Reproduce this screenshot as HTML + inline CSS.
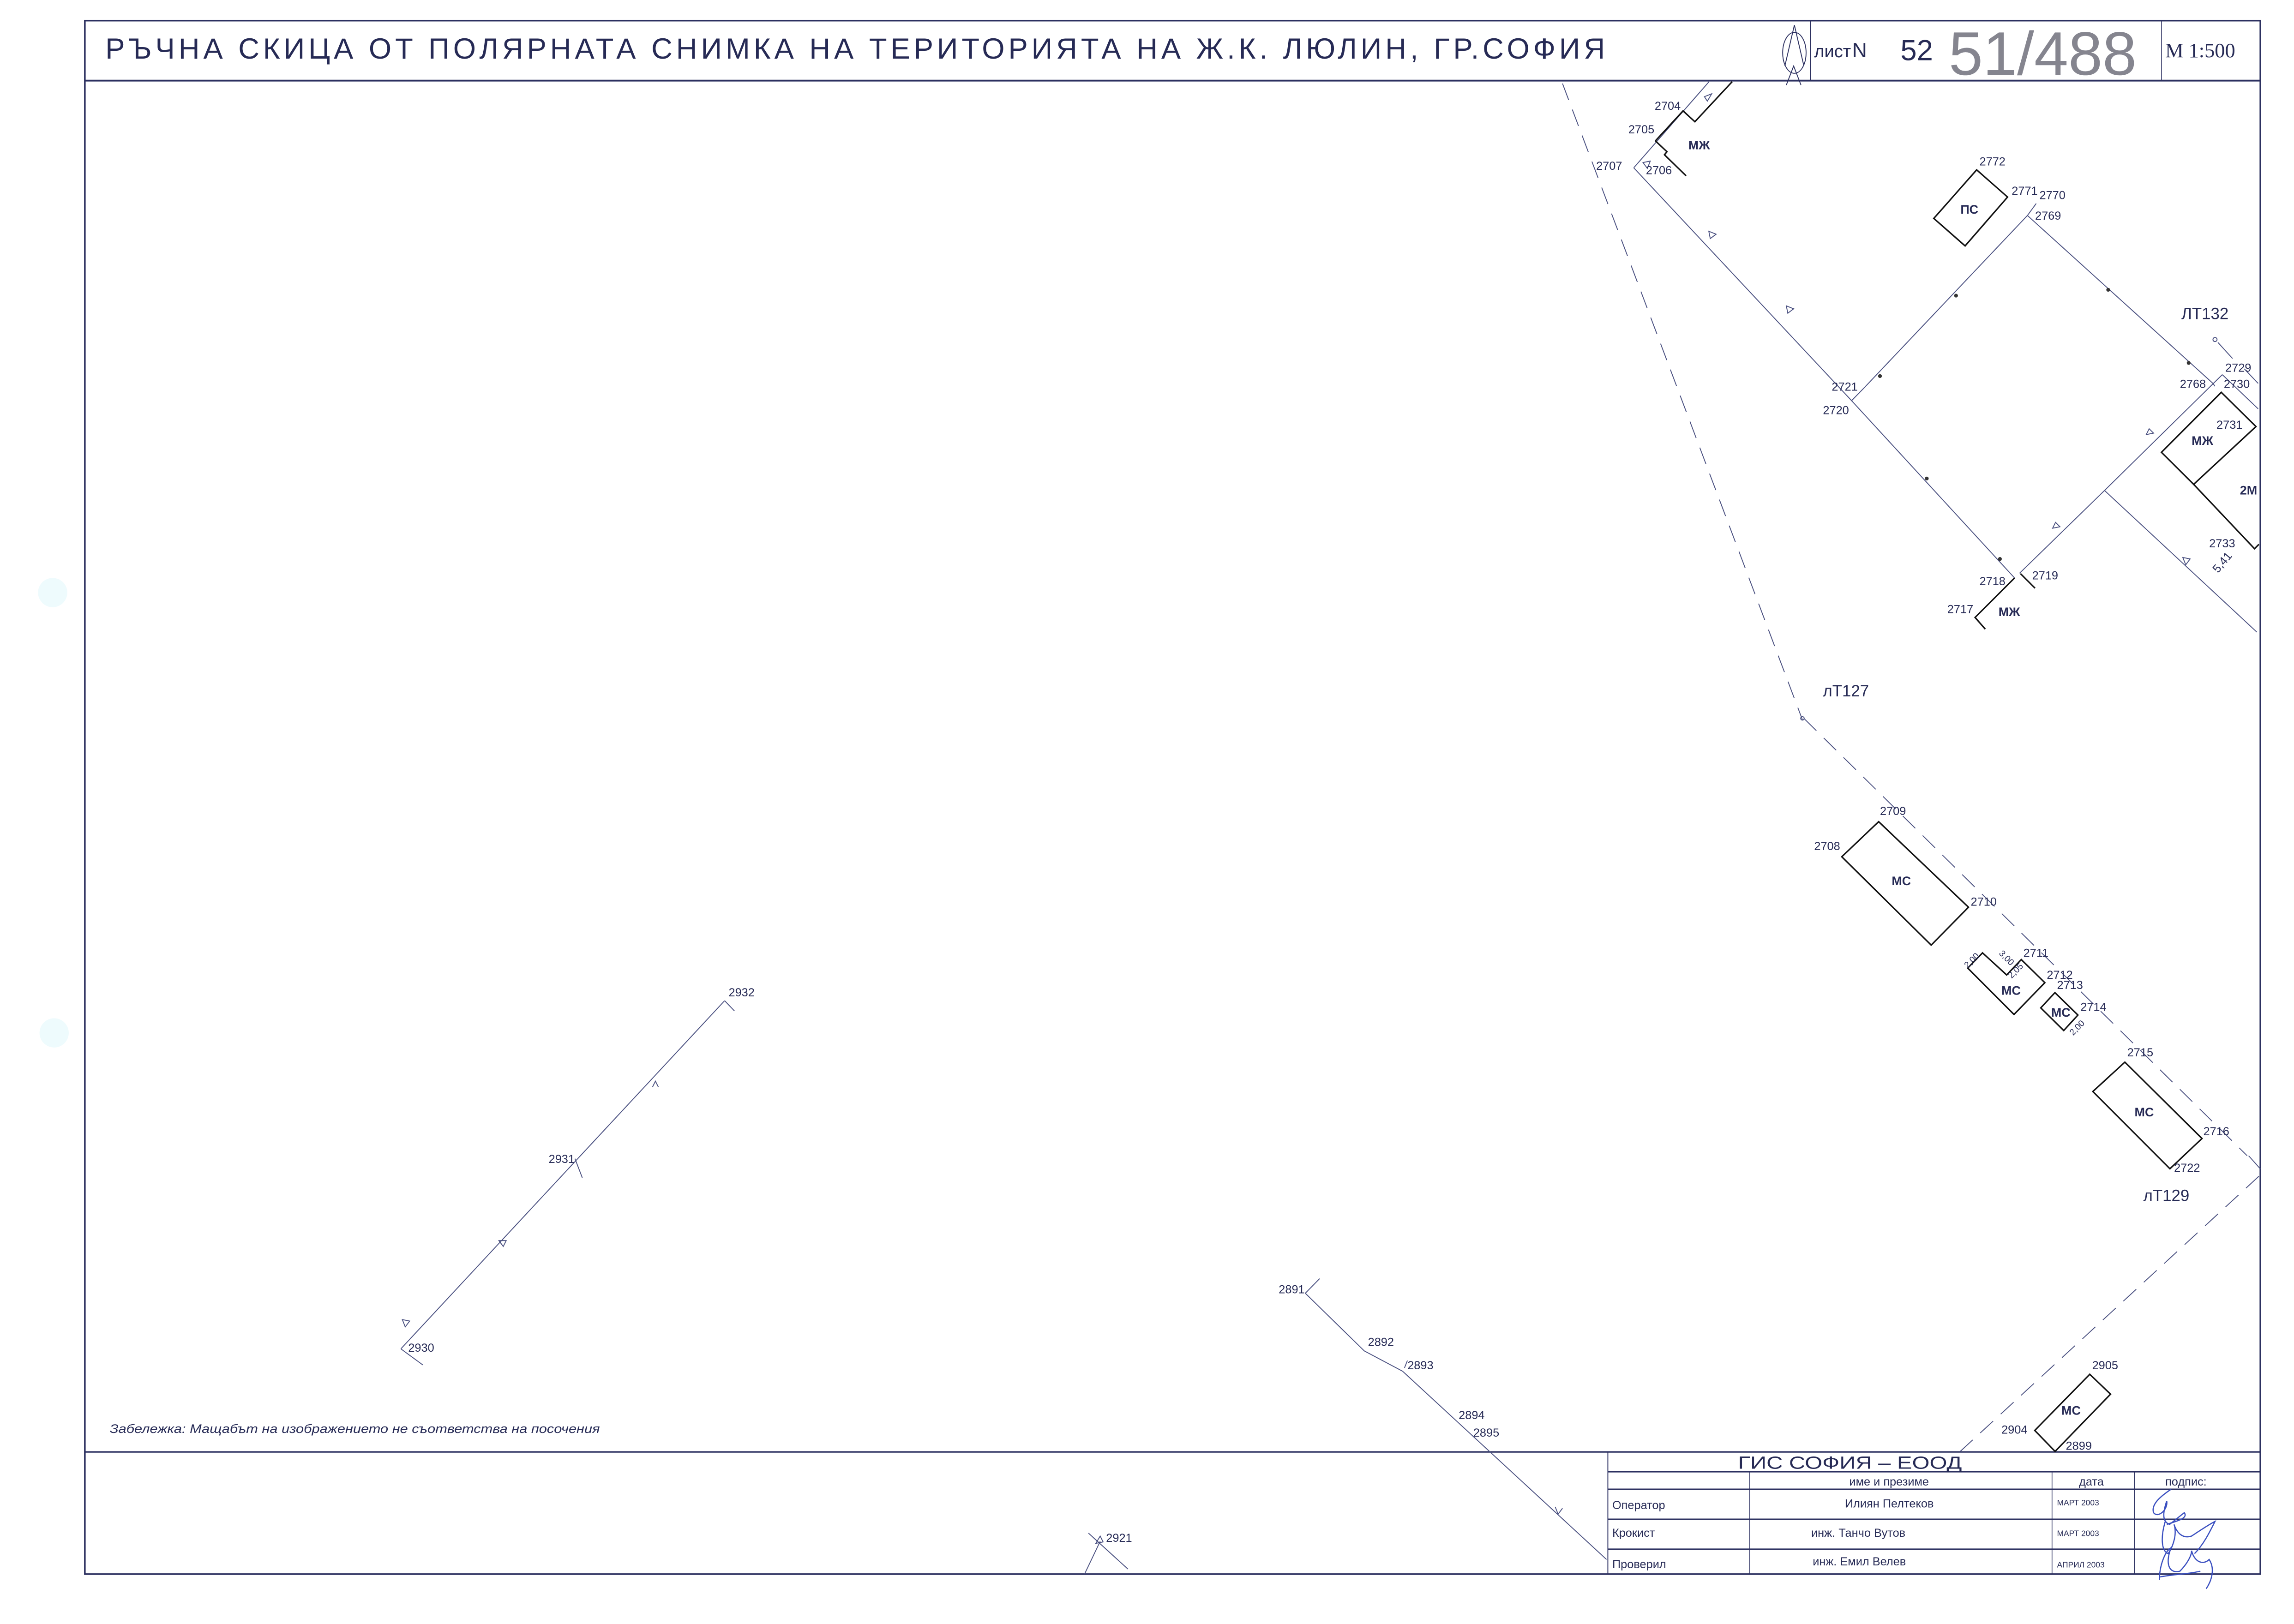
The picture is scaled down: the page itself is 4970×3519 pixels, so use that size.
<!DOCTYPE html>
<html><head><meta charset="utf-8"><style>
html,body{margin:0;padding:0;background:#fff;}
svg{display:block;}
text{font-family:"Liberation Sans","DejaVu Sans",sans-serif;fill:#262a55;}
</style></head><body>
<svg width="4970" height="3519" viewBox="0 0 1568 1110" xmlns="http://www.w3.org/2000/svg">
<rect x="0" y="0" width="1568" height="1110" fill="#fff"/>
<circle cx="36" cy="405" r="10" fill="#eefbfd"/>
<circle cx="37" cy="706" r="10" fill="#eefbfd"/>
<g fill="none" stroke="#2c3060">
<rect x="58" y="14" width="1487" height="1062" stroke-width="1.1"/>
<line x1="58" y1="55" x2="1545" y2="55" stroke-width="1.2"/>
<line x1="1237.5" y1="14" x2="1237.5" y2="55" stroke-width="0.5"/>
<line x1="1477.5" y1="14" x2="1477.5" y2="55" stroke-width="0.5"/>
<line x1="58" y1="992.5" x2="1545" y2="992.5" stroke-width="1"/>
<line x1="1099" y1="992.5" x2="1099" y2="1076" stroke-width="0.6"/>
<line x1="1099" y1="1006" x2="1545" y2="1006" stroke-width="1"/>
<line x1="1099" y1="1018" x2="1545" y2="1018" stroke-width="1"/>
<line x1="1099" y1="1038.5" x2="1545" y2="1038.5" stroke-width="1"/>
<line x1="1099" y1="1059" x2="1545" y2="1059" stroke-width="1"/>
<line x1="1196" y1="1006" x2="1196" y2="1076" stroke-width="0.5"/>
<line x1="1402.6" y1="1006" x2="1402.6" y2="1076" stroke-width="0.5"/>
<line x1="1459" y1="1006" x2="1459" y2="1076" stroke-width="0.5"/>
</g>
<!-- header -->
<text x="72" y="40" font-size="20" textLength="1025" lengthAdjust="spacing">РЪЧНА СКИЦА ОТ ПОЛЯРНАТА СНИМКА НА ТЕРИТОРИЯТА НА Ж.К. ЛЮЛИН, ГР.СОФИЯ</text>
<g fill="none" stroke="#2c3060" stroke-width="0.6">
<ellipse cx="1226.5" cy="36" rx="8" ry="14"/>
<polyline points="1221,58 1226,45 1231,58"/>
<line x1="1226.5" y1="17" x2="1220" y2="45"/><line x1="1226.5" y1="17" x2="1233" y2="45"/>
</g>
<text x="1240" y="39" font-size="12">лист</text>
<text x="1266" y="39" font-size="14" font-family="Liberation Serif">N</text>
<text x="1299" y="41" font-size="20">52</text>
<text x="1332" y="51" font-size="42" style="fill:#85858f">51/488</text>
<text x="1480" y="39" font-size="14" style="font-family:'Liberation Serif',serif">М 1:500</text>
<!-- map lines thin -->
<g fill="none" stroke="#4a5080" stroke-width="0.6">
<line x1="1116.7" y1="114.6" x2="1168.2" y2="55.7"/>
<polyline points="1116.7,114.6 1265.6,273.8 1377,395"/>
<polyline points="1265.6,273.8 1274.4,264.8 1385.8,147.2 1391.8,139"/>
<polyline points="1385.8,147.2 1512.6,262 1514,264"/>
<polyline points="1519,256 1543.5,279.4"/>
<polyline points="1519,256 1438.5,335.2 1380.4,391.8"/>
<polyline points="1438.5,335.2 1542.6,432"/>
<line x1="1534" y1="252" x2="1543.5" y2="262"/>
<line x1="1516" y1="234" x2="1526" y2="245"/>
<circle cx="1514" cy="232" r="1.4"/>
<line x1="274" y1="922" x2="495.3" y2="684"/>
<line x1="495.3" y1="684" x2="502" y2="691"/>
<line x1="274" y1="922" x2="289" y2="933"/>
<line x1="393" y1="792" x2="398" y2="805"/>
<polyline points="892.2,884 932.5,923.4 958.7,937.3 1098.1,1066"/>
<line x1="892.2" y1="884" x2="902" y2="874"/>
<line x1="744" y1="1048" x2="771" y2="1072.6"/>
<line x1="752" y1="1053.6" x2="741.3" y2="1076"/>
</g>
<!-- dashed -->
<g fill="none" stroke="#4a5080" stroke-width="0.6" stroke-dasharray="12,7">
<line x1="1068" y1="57" x2="1232" y2="492"/>
<line x1="1233" y1="491" x2="1536" y2="790"/>
<line x1="1544" y1="804" x2="1340" y2="992"/>
</g>
<g fill="none" stroke="#4a5080" stroke-width="0.6"><line x1="1537" y1="790" x2="1545" y2="799"/><circle cx="1232" cy="491" r="1.2"/></g>
<!-- buildings thick -->
<g fill="none" stroke="#111" stroke-width="1">
<polyline points="1131.5,96.2 1150.4,75.7 1158.5,83.1 1184,55.7"/>
<polyline points="1131.5,96.2 1139.4,103.6 1137.7,105.7 1152.5,120.1"/>
<polygon points="1351.1,116 1372.2,134.6 1343.2,168 1321.8,149.2"/>
<polygon points="1518.3,268.1 1542,291.5 1499.4,331 1477.4,309.1"/>
<polyline points="1499.4,331 1541,375 1544,372"/>
<polyline points="1377,395 1350,422 1357,430"/>
<line x1="1381" y1="392" x2="1391" y2="402"/>
<polygon points="1284.1,561.6 1345.5,620.1 1320,646 1258.9,585.6"/>
<polygon points="1355.1,651.3 1371.6,666.4 1381.6,655.9 1397.7,671.7 1376.6,693.4 1345,661.7"/>
<polygon points="1404.6,678.5 1420.3,693.8 1410.6,704.4 1394.9,688.9"/>
<polygon points="1452.4,726 1505.1,778.2 1483.2,798.9 1430.5,746.1"/>
<polygon points="1428.4,939.4 1442.6,953 1404.7,992.1 1390.8,977.8"/>
</g>
<!-- small marks -->
<g fill="#333"><circle cx="1337" cy="202" r="1.3"/><circle cx="1441" cy="198" r="1.3"/><circle cx="1285" cy="257" r="1.3"/><circle cx="1496" cy="248" r="1.3"/><circle cx="1317" cy="327" r="1.3"/><circle cx="1367" cy="382" r="1.3"/></g>
<g fill="none" stroke="#4a5080" stroke-width="0.6">
<path d="M1165,66 l5,-2 l-3,5z"/><path d="M1123,111 l5,-1 l-2,5z"/><path d="M1168,158 l5,2 l-4,3z"/><path d="M1221,209 l5,2 l-4,3z"/>
<path d="M1472,296 l-5,1 l2,-4z"/><path d="M1408,360 l-5,1 l2,-4z"/><path d="M1492,381 l5,1 l-3,4z"/>
<path d="M344,852 l-3,-4 l5,0z"/><path d="M277,907 l-2,-5 l5,1z"/><path d="M446,743 l2,-4 l2,4"/><path d="M960,935 l2,-5"/><path d="M1063,1030 l2,5 l3,-4"/><path d="M749,1055 l3,-5 l2,4z"/>
</g>
<!-- labels -->
<g font-size="8">
<text x="1131" y="75">2704</text><text x="1113" y="91">2705</text><text x="1091" y="116">2707</text><text x="1125" y="119">2706</text>
<text x="1353" y="113">2772</text><text x="1375" y="133">2771</text><text x="1394" y="136">2770</text><text x="1391" y="150">2769</text>
<text x="1252" y="267">2721</text><text x="1246" y="283">2720</text><text x="1490" y="265">2768</text><text x="1521" y="254">2729</text><text x="1520" y="265">2730</text>
<text x="1515" y="293">2731</text><text x="1510" y="374">2733</text><text x="1353" y="400">2718</text><text x="1389" y="396">2719</text><text x="1331" y="419">2717</text>
<text x="1285" y="557">2709</text><text x="1240" y="581">2708</text><text x="1347" y="619">2710</text><text x="1383" y="654">2711</text><text x="1399" y="669">2712</text><text x="1406" y="676">2713</text><text x="1422" y="691">2714</text>
<text x="1454" y="722">2715</text><text x="1506" y="776">2716</text><text x="1486" y="801">2722</text>
<text x="1430" y="936">2905</text><text x="1368" y="980">2904</text><text x="1412" y="991">2899</text>
<text x="498" y="681">2932</text><text x="375" y="795">2931</text><text x="279" y="924">2930</text>
<text x="874" y="884">2891</text><text x="935" y="920">2892</text><text x="962" y="936">2893</text><text x="997" y="970">2894</text><text x="1007" y="982">2895</text><text x="756" y="1054">2921</text>
</g>
<g font-size="11"><text x="1491" y="218">ЛТ132</text><text x="1246" y="476">лТ127</text><text x="1465" y="821">лТ129</text></g>
<g font-size="8.5" font-weight="bold" style="fill:#111">
<text x="1154" y="102">МЖ</text><text x="1340" y="146">ПС</text><text x="1498" y="304">МЖ</text><text x="1531" y="338">2М</text><text x="1366" y="421">МЖ</text>
<text x="1293" y="605">МС</text><text x="1368" y="680">МС</text><text x="1402" y="695">МС</text><text x="1459" y="763">МС</text><text x="1409" y="967">МС</text>
</g>
<text x="1516" y="392" font-size="8" transform="rotate(-50 1516 392)">5,41</text>
<text x="1345" y="662" font-size="6" transform="rotate(-45 1345 662)">2,00</text>
<text x="1366" y="652" font-size="6" transform="rotate(45 1366 652)">3,00</text>
<text x="1375" y="669" font-size="6" transform="rotate(-45 1375 669)">2,05</text>
<text x="1417" y="708" font-size="6" transform="rotate(-45 1417 708)">2,00</text>
<text x="75" y="979.5" font-size="8.5" font-style="italic" textLength="335" lengthAdjust="spacingAndGlyphs">Забележка: Мащабът на изображението не съответства на посочения</text>
<!-- table -->
<text x="1188" y="1004" font-size="12" textLength="153" lengthAdjust="spacingAndGlyphs">ГИС  СОФИЯ – ЕООД</text>
<g font-size="8">
<text x="1264" y="1015.5">име и презиме</text><text x="1421" y="1015.5">дата</text><text x="1480" y="1015.5">подпис:</text>
<text x="1102" y="1031.5">Оператор</text><text x="1261" y="1030.5">Илиян Пелтеков</text>
<text x="1102" y="1050.5">Крокист</text><text x="1238" y="1050.5">инж. Танчо Вутов</text>
<text x="1102" y="1072">Проверил</text><text x="1239" y="1070">инж. Емил Велев</text>
</g>
<g font-size="5.5"><text x="1406" y="1029">МАРТ 2003</text><text x="1406" y="1050">МАРТ 2003</text><text x="1406" y="1071.5">АПРИЛ 2003</text></g>
<g fill="none" stroke="#3a4fc0" stroke-width="0.8">
<path d="M1484,1018 c-6,4 -14,10 -12,16 c3,4 10,-2 9,-8 c-2,6 -4,14 2,16 l10,-8 c3,4 -6,6 -12,8"/>
<path d="M1480,1040 c-3,10 -3,20 2,22 c4,-6 6,-14 4,-20 c2,6 6,10 12,8 c6,-4 12,-8 16,-10 c-4,8 -8,16 -14,22"/>
<path d="M1476,1080 c0,-10 4,-20 8,-22 c-4,10 -2,18 6,16 c4,-4 8,-10 8,-14 c2,8 8,10 12,6 c4,6 2,14 -2,20 M1476,1078 c10,-2 20,-2 28,-4"/>
</g>
</svg>
</body></html>
